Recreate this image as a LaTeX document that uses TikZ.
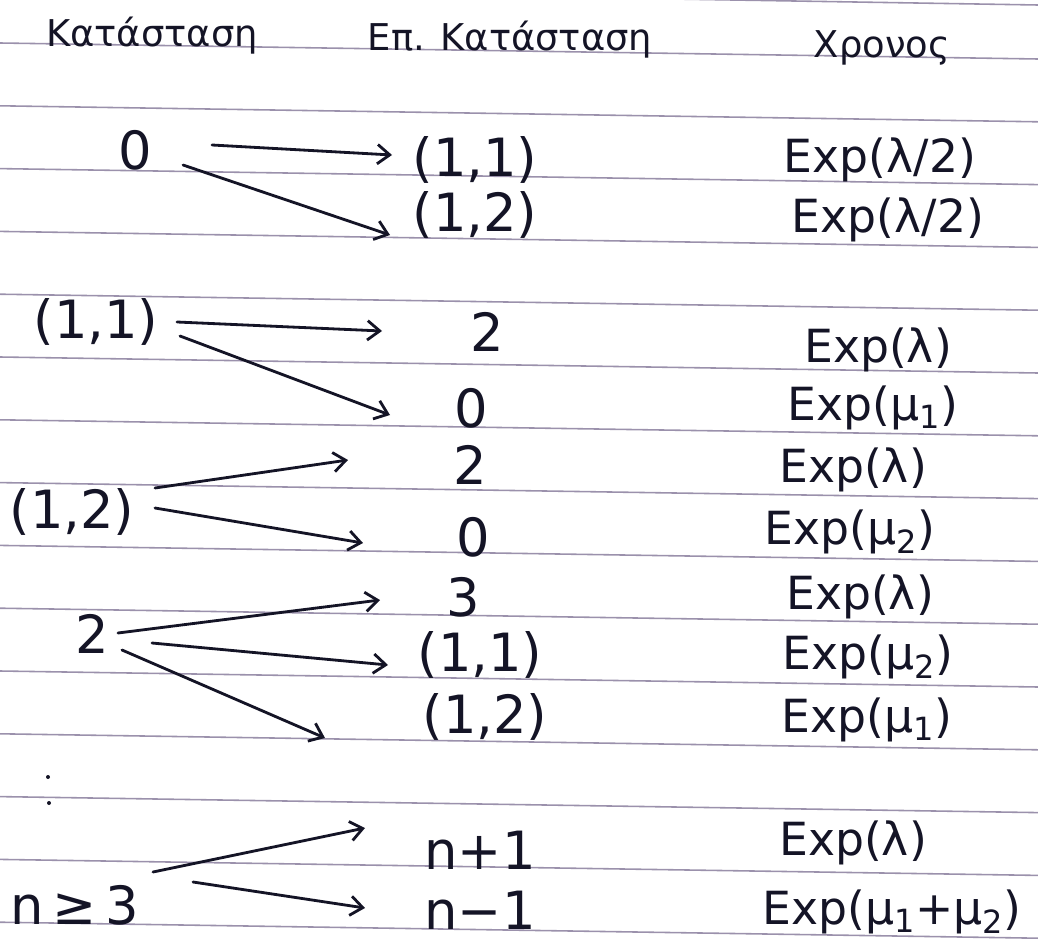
\documentclass[tikz,border=0pt]{standalone}
\usepackage{fontspec}
\setmainfont{DejaVu Sans}
\usetikzlibrary{arrows.meta,calc}
\definecolor{ink}{RGB}{20,20,38}
\definecolor{rulecol}{RGB}{155,145,172}
\begin{document}
\begin{tikzpicture}[x=0.02cm,y=-0.02cm,
  ruleline/.style={draw=rulecol,line width=0.9pt},
  hdr/.style={font=\fontsize{21}{25}\selectfont,text=ink,inner sep=0pt},
  stt/.style={font=\fontsize{30}{36}\selectfont,text=ink,inner sep=0pt},
  rate/.style={font=\fontsize{26}{31}\selectfont,text=ink,inner sep=0pt},
  arr/.style={draw=ink,line width=1.6pt,line cap=round,-{Straight Barb[length=7pt,width=11pt]}}]
\useasboundingbox (0,0) rectangle (1038,950);
\clip (0,0) rectangle (1038,950);
\fill[white] (0,0) rectangle (1038,950);
% notebook rules
\draw[ruleline] (0,-12) -- (1038,5);
\foreach \k in {0,...,14}{
  \draw[ruleline] (0,{43+62.8*\k}) -- (1038,{59+62.8*\k});
}
% headers
\node[hdr] (h1) at (152,36) {Κατάσταση};
\node[hdr] (h2) at (510,40) {Επ. Κατάσταση};
\node[hdr] (h3) at (882,48) {Χρονος};
% current states
\node[stt] (s0) at (135,150) {0};
\node[stt] (s11) at (96,322) {(1,1)};
\node[stt] (s12) at (72,512) {(1,2)};
\node[stt] (s2) at (92,634) {2};
\node[stt] (sn) at (75,905) {n\,≥\,3};
\fill[ink] (48,777) circle (2);
\fill[ink] (49,803) circle (2);
% next states
\node[stt] (d11) at (475,160) {(1,1)};
\node[stt] (d12) at (475,215) {(1,2)};
\node[stt] (e2a) at (487,332) {2};
\node[stt] (e0a) at (471,408) {0};
\node[stt] (e2b) at (470,465) {2};
\node[stt] (e0b) at (473,537) {0};
\node[stt] (e3) at (463,597) {3};
\node[stt] (e11) at (480,655) {(1,1)};
\node[stt] (e12) at (485,717) {(1,2)};
\node[stt] (en1) at (480,850) {n+1};
\node[stt] (enm) at (480,910) {n−1};
% times
\node[rate] (r1) at (880,160) {Exp(λ/2)};
\node[rate] (r2) at (888,220) {Exp(λ/2)};
\node[rate] (r3) at (878,350) {Exp(λ)};
\node[rate] (r4) at (873,408) {Exp(μ\textsubscript{1})};
\node[rate] (r5) at (853,470) {Exp(λ)};
\node[rate] (r6) at (850,532) {Exp(μ\textsubscript{2})};
\node[rate] (r7) at (860,597) {Exp(λ)};
\node[rate] (r8) at (868,657) {Exp(μ\textsubscript{2})};
\node[rate] (r9) at (867,720) {Exp(μ\textsubscript{1})};
\node[rate] (r10) at (853,843) {Exp(λ)};
\node[rate] (r11) at (892,912) {Exp(μ\textsubscript{1}+μ\textsubscript{2})};
% transitions
\draw[arr] ($(s0)+(77,-5)$) -- ($(d11)+(-83,-5)$);
\draw[arr] ($(s0)+(48,15)$) -- ($(d12)+(-85,20)$);
\draw[arr] ($(s11)+(81,0)$) -- ($(e2a)+(-105,-1)$);
\draw[arr] ($(s11)+(84,14)$) -- ($(e0a)+(-81,7)$);
\draw[arr] ($(s12)+(83,-24)$) -- ($(e2b)+(-122,-5)$);
\draw[arr] ($(s12)+(83,-4)$) -- ($(e0b)+(-110,6)$);
\draw[arr] ($(s2)+(26,-1)$) -- ($(e3)+(-83,3)$);
\draw[arr] ($(s2)+(60,9)$) -- ($(e11)+(-92,10)$);
\draw[arr] ($(s2)+(30,16)$) -- ($(e12)+(-160,21)$);
\draw[arr] ($(sn)+(78,-33)$) -- ($(en1)+(-115,-22)$);
\draw[arr] ($(sn)+(118,-23)$) -- ($(enm)+(-115,-2)$);
\end{tikzpicture}
\end{document}
